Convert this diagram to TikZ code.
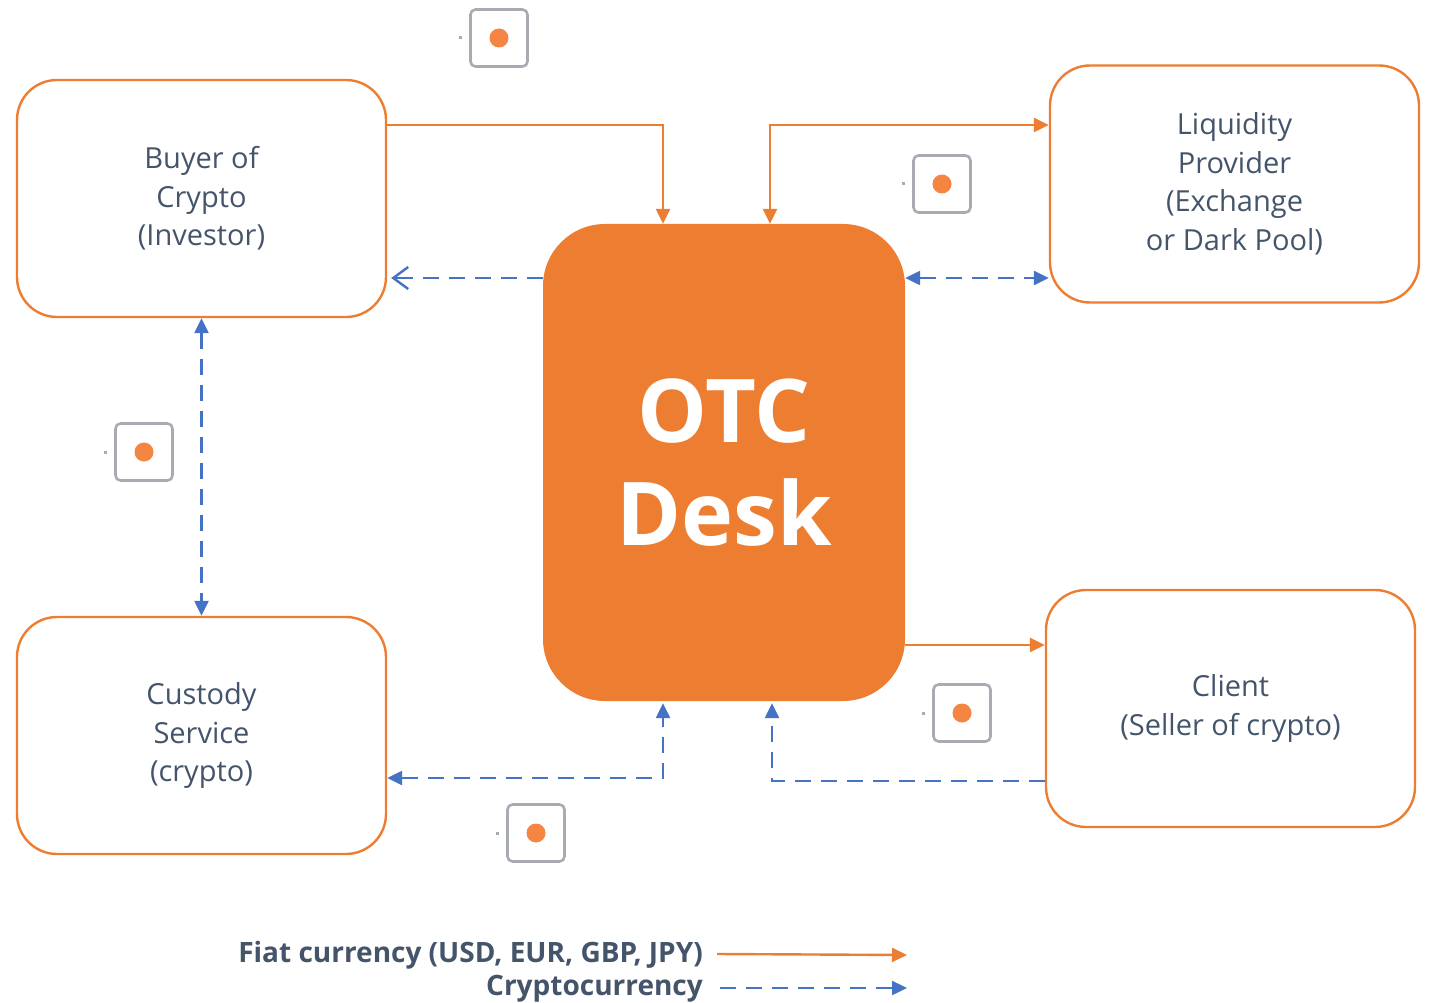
\documentclass[tikz,border=0pt]{standalone}
\usepackage{fontspec}
\setmainfont{Open Sans}
\usetikzlibrary{arrows.meta}
\definecolor{otcorange}{HTML}{ED7D31}
\definecolor{cryptoblue}{HTML}{4472C4}
\definecolor{slatetext}{HTML}{44546A}
\definecolor{stampgrey}{HTML}{A9ABB3}
\definecolor{stampdot}{HTML}{F58542}
\tikzset{%
  party/.style={
    draw=otcorange,
    line width=2.4pt,
    rounded corners=40pt,
    minimum width=369pt,
    minimum height=237pt,
    align=center,
    text=slatetext,
    font=\fontsize{29}{38.5}\selectfont
  },
  desk/.style={
    fill=otcorange,
    rounded corners=62pt,
    minimum width=362pt,
    minimum height=477pt,
    align=center,
    text=white,
    font=\fontsize{88}{103}\selectfont\bfseries
  },
  stamp/.style={
    draw=stampgrey,
    line width=2.6pt,
    rounded corners=5pt,
    fill=white,
    minimum size=57pt
  },
  stamp dot/.style={
    circle,
    fill=stampdot,
    inner sep=0pt,
    minimum size=19pt
  },
  stamp mark/.style={
    fill=stampgrey,
    inner sep=0pt,
    minimum size=3pt
  },
  fiat/.style={
    draw=otcorange,
    line width=2.4pt,
    >={Triangle[length=15pt,width=14pt]}
  },
  crypto/.style={
    draw=cryptoblue,
    line width=2.4pt,
    dash pattern=on 16pt off 10pt,
    >={Triangle[length=15pt,width=14pt]}
  },
  legend/.style={
    anchor=east,
    inner sep=0pt,
    text=slatetext,
    font=\fontsize{28}{30}\selectfont\bfseries
  },
}
\begin{document}
\begin{tikzpicture}[x=1pt, y=-1pt]
  \useasboundingbox (0,0) rectangle (1433,1003);

  \node [party] (buyer) at (201.5,198.5) {Buyer of\\Crypto\\(Investor)};
  \node [party] (custody) at (201.5,735.5) {Custody\\Service\\(crypto)};
  \node [party] (liquidity) at (1234.5,184) {Liquidity\\Provider\\(Exchange\\or Dark Pool)};
  \node [party] (client) at (1230.5,708.5) {Client\\(Seller of crypto)};
  \node [desk] (otc) at (724,462.5) {OTC\\Desk};

  % stamps on the flows
  \foreach \name/\x/\y in {a/499/38, b/942/184, c/144/452, d/962/713, e/536/833} {
    \node [stamp] (stamp-\name) at (\x,\y) {};
    \node [stamp dot] (dot-\name) at (stamp-\name.center) {};
    \node [stamp mark] (mark-\name) at ([xshift=-39pt]stamp-\name.center) {};
  }

  % fiat flows
  \draw [fiat, ->] ([yshift=73.5pt]buyer.east) -| ([xshift=-61pt]otc.north);
  \draw [fiat, <->] ([xshift=46pt]otc.north) |- ([yshift=59pt]liquidity.west);
  \draw [fiat, ->] ([yshift=-182.5pt]otc.east) -- ([yshift=63.5pt]client.west);

  % crypto flows
  \draw [crypto] ([yshift=184.5pt]otc.west) -- ([xshift=4pt,yshift=-79.5pt]buyer.east);
  \draw [draw=cryptoblue, line width=2.4pt, -{Straight Barb[length=15pt,width=22pt]}]
    ([xshift=16pt,yshift=-79.5pt]buyer.east) -- ([xshift=4pt,yshift=-79.5pt]buyer.east);
  \draw [crypto, <->] ([yshift=184.5pt]otc.east) -- ([yshift=-94pt]liquidity.west);
  \draw [crypto, <->] (buyer.south) -- (custody.north);
  \draw [crypto, <->] ([yshift=-42.5pt]custody.east) -| ([xshift=-61pt,yshift=-2pt]otc.south);
  \draw [crypto, ->] ([yshift=-72.5pt]client.west) -| ([xshift=48pt,yshift=-2pt]otc.south);

  % legend
  \node [legend] (fiat-label) at (703,955) {Fiat currency (USD, EUR, GBP, JPY)};
  \node [legend] (crypto-label) at (703,989) {Cryptocurrency};
  \coordinate (fiat-end) at (907,955);
  \coordinate (crypto-end) at (907,988);
  \draw [fiat, ->] ([xshift=14pt,yshift=1pt]fiat-label.east) -- (fiat-end);
  \draw [crypto, ->] ([xshift=17pt,yshift=1pt]crypto-label.east) -- (crypto-end);
\end{tikzpicture}
\end{document}
